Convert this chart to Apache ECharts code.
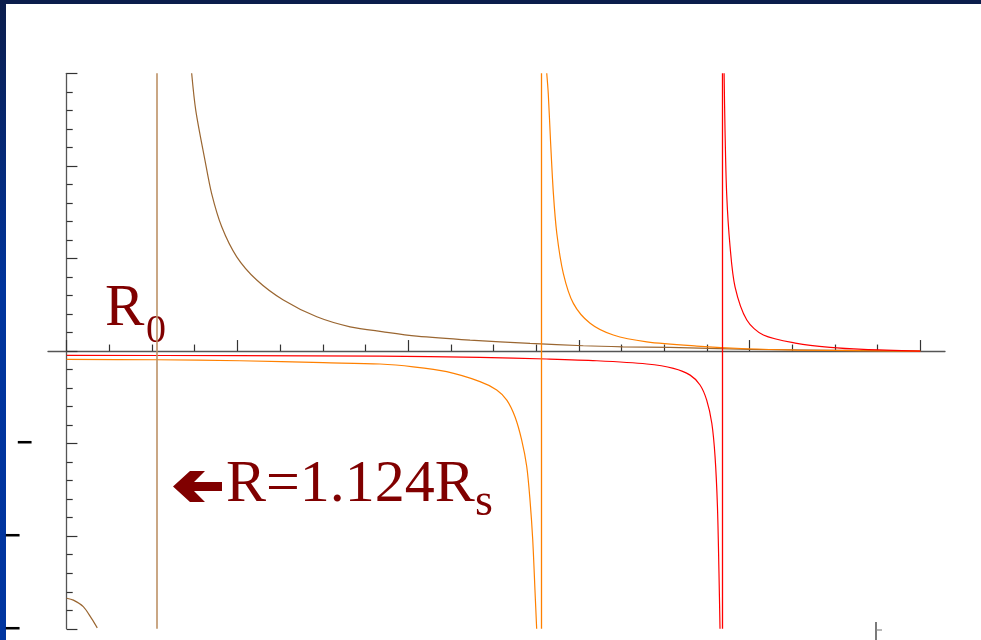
<!DOCTYPE html>
<html>
<head>
<meta charset="utf-8">
<script src="https://cdn.jsdelivr.net/npm/echarts@6/dist/echarts.min.js"></script>
<style>
  html, body { margin: 0; padding: 0; background: #ffffff; }
  #chart { width: 981px; height: 640px; }
</style>
</head>
<body>
<div id="chart"></div>
<script>
// Radius runs along x (one unit per major tick, 0 at the vertical axis).
// Each curve has a left branch, a vertical asymptote and a right branch.
const brownLeft  = [[0, -2.67], [0.039, -2.69], [0.097, -2.76], [0.146, -2.89], [0.179, -2.99]];
const brownAsym  = 0.533;
const brownRight = [[0.732, 3.0], [0.756, 2.60], [0.810, 2.06], [0.849, 1.70], [0.908, 1.342],
                    [0.996, 1.018], [1.113, 0.767], [1.269, 0.551], [1.465, 0.370], [1.660, 0.262],
                    [1.855, 0.208], [2.050, 0.162], [2.363, 0.119], [2.714, 0.083], [3.026, 0.057],
                    [3.259, 0.046], [3.533, 0.040], [3.761, 0.029], [4.003, 0.018], [4.5, 0.008], [5.0, 0]];

const orangeLeft  = [[0, -0.09], [0.527, -0.094], [1.015, -0.105], [1.503, -0.126], [1.835, -0.14],
                     [2.030, -0.17], [2.226, -0.223], [2.421, -0.33], [2.519, -0.42], [2.578, -0.53],
                     [2.626, -0.71], [2.665, -0.96], [2.695, -1.25], [2.714, -1.61], [2.730, -2.04],
                     [2.743, -2.58], [2.753, -3.0]];
const orangeAsym  = 2.783;
const orangeRight = [[2.812, 3.0], [2.821, 2.78], [2.835, 2.24], [2.851, 1.70], [2.871, 1.27],
                     [2.909, 0.84], [2.968, 0.515], [3.066, 0.30], [3.202, 0.173], [3.398, 0.10],
                     [3.691, 0.054], [3.984, 0.025], [4.277, 0.011], [4.65, 0.004], [5.0, 0]];

const redLeft  = [[0, -0.046], [1.0, -0.05], [1.835, -0.054], [2.421, -0.068], [2.811, -0.086],
                  [3.105, -0.105], [3.398, -0.14], [3.554, -0.187], [3.652, -0.26], [3.710, -0.367],
                  [3.749, -0.53], [3.779, -0.78], [3.798, -1.14], [3.812, -1.68], [3.821, -2.40],
                  [3.827, -3.0]];
const redAsym  = 3.841;
const redRight = [[3.851, 3.0], [3.856, 2.42], [3.866, 1.70], [3.886, 1.126], [3.915, 0.694],
                  [3.984, 0.335], [4.081, 0.173], [4.277, 0.083], [4.472, 0.040], [4.667, 0.018],
                  [5.0, 0]];

const majorTicksX = [0, 1, 2, 3, 4, 5];
const minorTicksX = [0.25, 0.5, 0.75, 1.25, 1.5, 1.75, 2.25, 2.5, 2.75, 3.25, 3.5, 3.75,
                     4.25, 4.5, 4.75];
const negativeMarks = { '-1': '{a|\u2212}', '-2': '{b|\u2212}', '-3': '{b|\u2212}' };

const BROWN = '#9a6631';
const BROWN_ASYM = '#bd9166';
const ORANGE = '#ff8000';
const RED = '#ff0000';
const MAROON = '#800000';

function branch(data, color) {
  return {
    type: 'line', data: data, showSymbol: false, symbol: 'none',
    smooth: 0.3, clip: true, silent: true,
    lineStyle: { color: color, width: 1.2 }
  };
}
function asymptote(x, color, width) {
  return {
    type: 'line', data: [], silent: true,
    markLine: {
      silent: true, symbol: 'none', animation: false,
      label: { show: false },
      lineStyle: { color: color, width: width, type: 'solid', opacity: 1 },
      data: [{ xAxis: x }]
    }
  };
}

const axisLineStyle = { color: '#555555', width: 1.3 };
const tickStyle = { color: '#333333', width: 1.2 };

const chart = echarts.init(document.getElementById('chart'), null, { renderer: 'canvas' });
chart.setOption({
  animation: false,
  backgroundColor: '#ffffff',
  grid: { left: 48, right: 36, top: 73.3, bottom: 11.2, containLabel: false, outerBoundsMode: 'none' },
  xAxis: [
    {
      type: 'value', position: 'bottom', min: -0.1096, max: 5.145,
      axisLine: { show: true, onZero: true, onZeroAxisIndex: 0, lineStyle: axisLineStyle },
      axisTick: { show: true, inside: true, length: 11, customValues: majorTicksX, lineStyle: tickStyle },
      axisLabel: { show: false },
      splitLine: { show: false }
    },
    {
      type: 'value', position: 'bottom', min: -0.1096, max: 5.145,
      axisLine: { show: false, onZero: true, onZeroAxisIndex: 0 },
      axisTick: { show: true, inside: true, length: 6.5, customValues: minorTicksX, lineStyle: tickStyle },
      axisLabel: { show: false },
      splitLine: { show: false }
    }
  ],
  yAxis: {
    type: 'value', min: -3, max: 3, interval: 1,
    axisLine: { show: true, onZero: true, lineStyle: axisLineStyle },
    axisTick: { show: true, inside: true, length: 10.7, lineStyle: tickStyle },
    minorTick: { show: true, splitNumber: 5, length: 6, lineStyle: tickStyle },
    splitLine: { show: false },
    axisLabel: {
      show: true, margin: 14, color: '#000000',
      formatter: function (v) { return negativeMarks[String(v)] || ''; },
      rich: {
        a: { fontFamily: 'DejaVu Sans', fontWeight: 'bold', fontSize: 22, color: '#000000' },
        b: { fontFamily: 'DejaVu Sans', fontWeight: 'bold', fontSize: 22, color: '#000000', padding: [0, 12, 0, 0] }
      }
    }
  },
  series: [
    asymptote(brownAsym, BROWN_ASYM, 1.6),
    branch(brownLeft, BROWN),
    branch(brownRight, BROWN),
    asymptote(orangeAsym, ORANGE, 1.3),
    branch(orangeLeft, ORANGE),
    branch(orangeRight, ORANGE),
    asymptote(redAsym, RED, 1.3),
    branch(redLeft, RED),
    branch(redRight, RED)
  ],
  graphic: [
    // slide frame: dark band on top, blue gradient band on the left
    { type: 'rect', shape: { x: 0, y: 0, width: 981, height: 4 }, style: { fill: '#0b1d4c' }, silent: true },
    {
      type: 'rect', shape: { x: 0, y: 0, width: 6, height: 640 }, silent: true,
      style: {
        fill: new echarts.graphic.LinearGradient(0, 0, 0, 1, [
          { offset: 0, color: '#0b1d4c' },
          { offset: 0.45, color: '#00349c' },
          { offset: 1, color: '#0035a0' }
        ])
      }
    },
    // radius labels
    { type: 'text', x: 105, y: 309, silent: true,
      style: { text: 'R', fill: MAROON, fontFamily: 'Liberation Serif', fontSize: 59, textAlign: 'left', textVerticalAlign: 'middle' } },
    { type: 'text', x: 146, y: 331, silent: true,
      style: { text: '0', fill: MAROON, fontFamily: 'Liberation Serif', fontSize: 40, textAlign: 'left', textVerticalAlign: 'middle' } },
    // arrow pointing left towards the asymptote
    { type: 'polygon', silent: true,
      shape: { points: [[173, 486.5], [190, 471], [205, 471], [194, 482], [222, 482],
                        [222, 491], [194, 491], [205, 502], [190, 502]] },
      style: { fill: MAROON } },
    { type: 'text', x: 226, y: 485, silent: true,
      style: { text: 'R=1.124R', fill: MAROON, fontFamily: 'Liberation Serif', fontSize: 60, textAlign: 'left', textVerticalAlign: 'middle' } },
    { type: 'text', x: 475, y: 503, silent: true,
      style: { text: 's', fill: MAROON, fontFamily: 'Liberation Serif', fontSize: 46, textAlign: 'left', textVerticalAlign: 'middle' } },
    // bracket mark at the bottom edge
    { type: 'line', shape: { x1: 876, y1: 622, x2: 876, y2: 640 }, style: { stroke: '#222222', lineWidth: 1.2 }, silent: true },
    { type: 'line', shape: { x1: 876, y1: 630, x2: 882, y2: 630 }, style: { stroke: '#888888', lineWidth: 1.2 }, silent: true }
  ]
});
</script>
</body>
</html>
